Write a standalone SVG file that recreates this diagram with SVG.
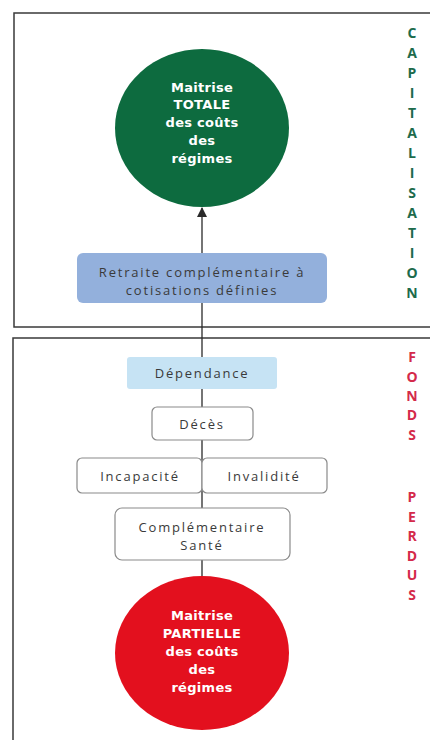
<svg xmlns="http://www.w3.org/2000/svg" width="430" height="740" viewBox="0 0 430 740">
<defs>
<marker id="arr" markerWidth="10" markerHeight="10" refX="9" refY="5" orient="auto" markerUnits="userSpaceOnUse" viewBox="0 0 10 10">
<path d="M0,0 L10,5 L0,10 Z" fill="#2a2a2a"/>
</marker>
<style>
.frame{fill:none;stroke:#3a3a3a;stroke-width:1.5}
.conn{stroke:#2a2a2a;stroke-width:1.3;fill:none}
.box{fill:#ffffff;stroke:#8a8a8a;stroke-width:1.2}
.t{font-family:"Open Sans","DejaVu Sans",sans-serif;font-size:13px;fill:#3a3a3a;text-anchor:middle;letter-spacing:1.8px}
.ct{font-family:"DejaVu Sans","Open Sans",sans-serif;font-size:13px;font-weight:bold;fill:#ffffff;text-anchor:middle;letter-spacing:0.3px}
.vg{font-family:"Open Sans","DejaVu Sans",sans-serif;font-size:14px;font-weight:bold;fill:#1d6b4c;text-anchor:middle}
.vr{font-family:"Open Sans","DejaVu Sans",sans-serif;font-size:14px;font-weight:bold;fill:#d42a4a;text-anchor:middle}
</style>
</defs>
<rect width="430" height="740" fill="#ffffff"/>
<g id="frames">
<rect class="frame" x="14" y="13" width="430" height="314"/>
<rect class="frame" x="13" y="338" width="430" height="420"/>
</g>
<g id="connectors">
<line class="conn" x1="202" y1="253" x2="202" y2="208" marker-end="url(#arr)"/>
<line class="conn" x1="202" y1="303" x2="202" y2="577"/>
</g>
<g id="capitalisation-label">
<text class="vg" x="412" y="38">C</text>
<text class="vg" x="412" y="58">A</text>
<text class="vg" x="412" y="78">P</text>
<text class="vg" x="412" y="98">I</text>
<text class="vg" x="412" y="118">T</text>
<text class="vg" x="412" y="138">A</text>
<text class="vg" x="412" y="158">L</text>
<text class="vg" x="412" y="178">I</text>
<text class="vg" x="412" y="198">S</text>
<text class="vg" x="412" y="218">A</text>
<text class="vg" x="412" y="238">T</text>
<text class="vg" x="412" y="258">I</text>
<text class="vg" x="412" y="278">O</text>
<text class="vg" x="412" y="298">N</text>
</g>
<g id="fonds-perdus-label">
<text class="vr" x="412" y="362">F</text>
<text class="vr" x="412" y="382">O</text>
<text class="vr" x="412" y="401">N</text>
<text class="vr" x="412" y="420">D</text>
<text class="vr" x="412" y="440">S</text>
<text class="vr" x="412" y="502">P</text>
<text class="vr" x="412" y="522">E</text>
<text class="vr" x="412" y="541">R</text>
<text class="vr" x="412" y="561">D</text>
<text class="vr" x="412" y="580">U</text>
<text class="vr" x="412" y="600">S</text>
</g>
<g id="maitrise-totale">
<ellipse cx="202" cy="128" rx="87" ry="79" fill="#0d6b3f"/>
<text class="ct" x="202" y="92">Maitrise</text>
<text class="ct" x="202" y="109">TOTALE</text>
<text class="ct" x="202" y="127">des coûts</text>
<text class="ct" x="202" y="145">des</text>
<text class="ct" x="202" y="163">régimes</text>
</g>
<g id="retraite">
<rect x="77" y="253" width="250" height="50" rx="6" fill="#93b0dc"/>
<text class="t" x="202" y="277">Retraite complémentaire à</text>
<text class="t" x="202" y="295">cotisations définies</text>
</g>
<g id="dependance">
<rect x="127" y="357" width="150" height="32" rx="3" fill="#c6e3f4"/>
<text class="t" x="202" y="378">Dépendance</text>
</g>
<g id="deces">
<rect class="box" x="152" y="407" width="101" height="33" rx="5"/>
<text class="t" x="202" y="429">Décès</text>
</g>
<g id="incapacite">
<rect class="box" x="77" y="458" width="125" height="35" rx="5"/>
<text class="t" x="140" y="481">Incapacité</text>
</g>
<g id="invalidite">
<rect class="box" x="202" y="458" width="125" height="35" rx="5"/>
<text class="t" x="264" y="481">Invalidité</text>
</g>
<g id="complementaire-sante">
<rect class="box" x="115" y="508" width="175" height="52" rx="7"/>
<text class="t" x="202" y="532">Complémentaire</text>
<text class="t" x="202" y="550">Santé</text>
</g>
<g id="maitrise-partielle">
<ellipse cx="202" cy="653" rx="87" ry="77" fill="#e3101e"/>
<text class="ct" x="202" y="620">Maitrise</text>
<text class="ct" x="202" y="638">PARTIELLE</text>
<text class="ct" x="202" y="656">des coûts</text>
<text class="ct" x="202" y="674">des</text>
<text class="ct" x="202" y="692">régimes</text>
</g>
</svg>
